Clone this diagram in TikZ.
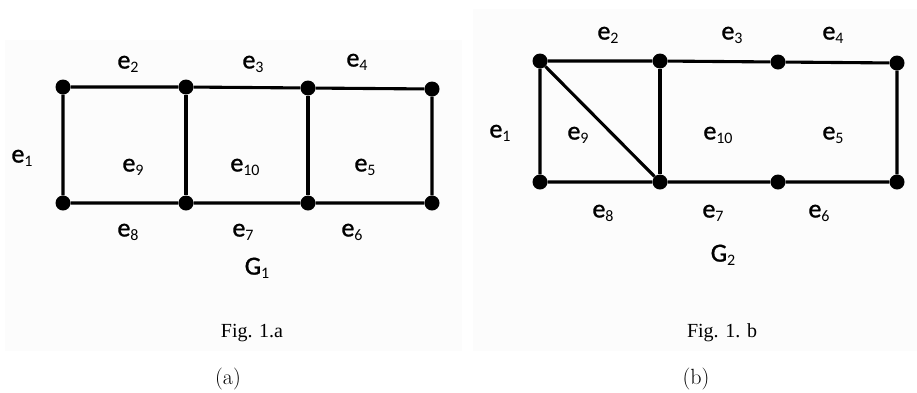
\documentclass[tikz,border=0pt]{standalone}
\usepackage{fontspec}
\newfontfamily\calib[FakeBold=1.2]{Carlito}
\newfontfamily\calibr{Carlito}
\newfontfamily\timesf{Liberation Serif}
\newcommand{\esb}[1]{\raisebox{-0.3ex}{\calibr\fontsize{16}{16}\selectfont #1}}
\definecolor{panelbg}{RGB}{252,252,252}

\begin{document}
\begin{tikzpicture}[x=1pt, y=-1pt,
            vtx/.style={circle, fill=black, inner sep=0pt, minimum size=15pt},
            edg/.style={line width=3.1pt},
            lbl/.style={font=\calib\fontsize{26}{30}\selectfont, inner sep=0pt},
            figcap/.style={font=\timesf\fontsize{20}{24}\selectfont, inner sep=0pt}]
            \useasboundingbox (0,0) rectangle (917,392);
            \fill[panelbg] (5,40) rectangle (462,351);
            \fill[panelbg] (473,9) rectangle (917,351);
            % G_1
            \node[vtx] (a1) at (63,87) {};
            \node[vtx] (a2) at (186,87) {};
            \node[vtx] (a3) at (308,88) {};
            \node[vtx] (a4) at (432,89) {};
            \node[vtx] (a5) at (63,203) {};
            \node[vtx] (a6) at (186,203) {};
            \node[vtx] (a7) at (308,203) {};
            \node[vtx] (a8) at (432,203) {};
            \draw[edg] (a1) -- (a2) -- (a3) -- (a4) -- (a8) -- (a7) -- (a6) -- (a5) -- (a1);
            \draw[edg] (a2) -- (a6);
            \draw[edg] (a3) -- (a7);
            \node[lbl] (ae1) at (22,158) {e\esb{1}};
            \node[lbl] (ae2) at (128,64) {e\esb{2}};
            \node[lbl] (ae3) at (253,64) {e\esb{3}};
            \node[lbl] (ae4) at (357,62) {e\esb{4}};
            \node[lbl] (ae5) at (365,167) {e\esb{5}};
            \node[lbl] (ae6) at (352,232) {e\esb{6}};
            \node[lbl] (ae7) at (243,232) {e\esb{7}};
            \node[lbl] (ae8) at (128,232) {e\esb{8}};
            \node[lbl] (ae9) at (133,167) {e\esb{9}};
            \node[lbl] (ae10) at (245,167) {e\esb{10}};
            \node[lbl] (ag) at (257,268) {G\esb{1}};
            \node[figcap] (afig) at (252,333) {Fig. 1.a};
            \node (asub) at (228,379) {\fontsize{22}{26}\selectfont (a)};
            % G_2
            \node[vtx] (b1) at (540,61) {};
            \node[vtx] (b2) at (660,61) {};
            \node[vtx] (b3) at (778,62) {};
            \node[vtx] (b4) at (897,63) {};
            \node[vtx] (b5) at (540,182) {};
            \node[vtx] (b6) at (660,182) {};
            \node[vtx] (b7) at (778,182) {};
            \node[vtx] (b8) at (897,182) {};
            \draw[edg] (b1) -- (b2) -- (b3) -- (b4) -- (b8) -- (b7) -- (b6) -- (b5) -- (b1);
            \draw[edg] (b2) -- (b6);
            \draw[edg] (b1) -- (b6);
            \node[lbl] (be1) at (500,133) {e\esb{1}};
            \node[lbl] (be2) at (608,35) {e\esb{2}};
            \node[lbl] (be3) at (732,35) {e\esb{3}};
            \node[lbl] (be4) at (833,35) {e\esb{4}};
            \node[lbl] (be5) at (833,135) {e\esb{5}};
            \node[lbl] (be6) at (819,213) {e\esb{6}};
            \node[lbl] (be7) at (713,213) {e\esb{7}};
            \node[lbl] (be8) at (603,213) {e\esb{8}};
            \node[lbl] (be9) at (578,135) {e\esb{9}};
            \node[lbl] (be10) at (718,135) {e\esb{10}};
            \node[lbl] (bg) at (723,255) {G\esb{2}};
            \node[figcap] (bfig) at (722,333) {Fig. 1. b};
            \node (bsub) at (696,379) {\fontsize{22}{26}\selectfont (b)};
        \end{tikzpicture}
\end{document}
